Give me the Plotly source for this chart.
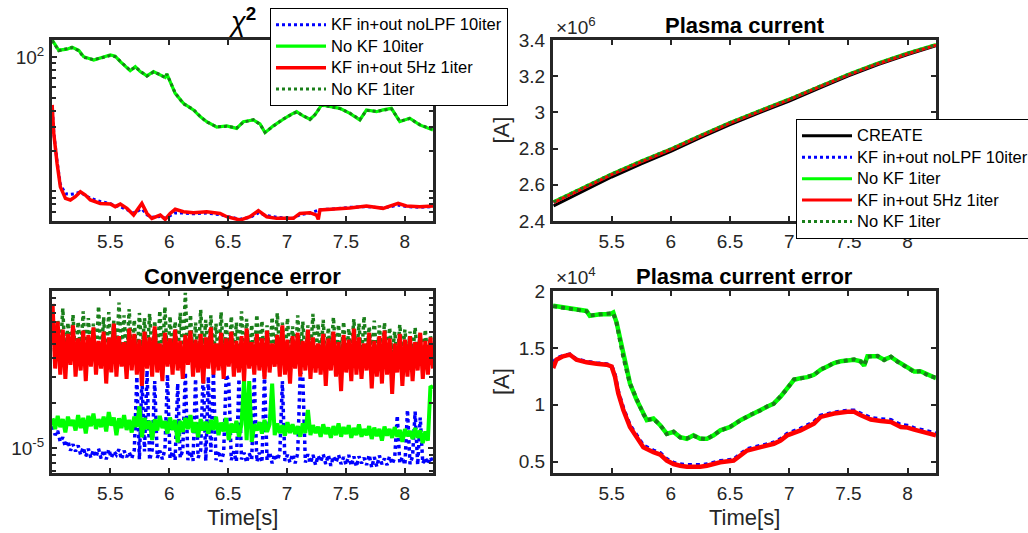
import numpy as np
import plotly.graph_objects as go

# ---------------- data ----------------
# chi^2 (top-left)
chi_t_nokf = [5.006, 5.062, 5.133, 5.175, 5.232, 5.274, 5.359, 5.415, 5.5, 5.542,
              5.585, 5.669, 5.712, 5.754, 5.811, 5.867, 5.924, 5.966, 5.980, 6.008,
              6.051, 6.121, 6.206, 6.263, 6.319, 6.404, 6.489, 6.573, 6.630, 6.715,
              6.771, 6.814, 6.884, 6.969, 7.025, 7.082, 7.138, 7.195, 7.237, 7.294,
              7.364, 7.449, 7.534, 7.619, 7.675, 7.760, 7.816, 7.887, 7.958, 8.042,
              8.127, 8.240]
chi_nokf10 = [134.7, 113, 115, 119, 113, 101, 95.5, 98.4, 104, 102,
              92.9, 79.5, 85.1, 78.2, 72.6, 78.2, 73.8, 70.9, 75.1, 65.8,
              53.8, 45.4, 40.5, 36.1, 33.1, 30.1, 30.8, 29.5, 33.1, 34.1,
              31.8, 27.4, 30.8, 34.5, 37.1, 39.3, 36.5, 34.5, 37.1, 44.1,
              42.8, 41.6, 38.2, 34.1, 40.5, 39.3, 40.5, 41.6, 33.1, 35.1,
              31.3, 28.7]
chi_nokf1 = [133.5, 112, 116, 118, 112, 100, 96, 99, 103, 101,
             93.5, 80, 84.5, 78.5, 72.2, 77.8, 74.2, 70.5, 74.8, 66.2,
             54.2, 45.0, 40.8, 36.3, 32.9, 30.3, 30.6, 29.7, 32.8, 34.3,
             31.6, 27.6, 30.6, 34.7, 36.9, 39.1, 36.7, 34.3, 37.3, 43.8,
             42.9, 41.4, 38.4, 34.3, 40.2, 39.5, 40.3, 41.3, 33.4, 34.9,
             31.5, 28.9]
chi_t_kf = [5.006, 5.020, 5.048, 5.076, 5.119, 5.161, 5.203, 5.246, 5.288, 5.331,
            5.415, 5.5, 5.542, 5.585, 5.641, 5.698, 5.768, 5.811, 5.853, 5.924,
            5.966, 6.008, 6.051, 6.121, 6.206, 6.319, 6.432, 6.489, 6.602, 6.686,
            6.757, 6.828, 6.912, 7.054, 7.110, 7.195, 7.251, 7.266, 7.280, 7.393,
            7.534, 7.675, 7.816, 7.944, 8.014, 8.127, 8.240]
chi_kf5hz = [44.1, 27.1, 16.2, 10.8, 8.87, 8.62, 9.12, 9.95, 9.39, 8.62,
             8.13, 8.04, 7.69, 8.04, 7.47, 6.66, 8.13, 6.85, 6.29, 6.66,
             6.18, 6.85, 7.35, 7.05, 6.93, 7.05, 6.85, 6.47, 6.11, 6.47,
             7.18, 6.47, 6.29, 6.29, 6.85, 6.93, 6.66, 6.18, 7.26, 7.35,
             7.52, 7.78, 7.47, 8.13, 7.78, 7.69, 7.78]
chi_kf_nolpf = [44.1, 27.5, 16.8, 11.3, 9.6, 9.5, 9.6, 9.9, 9.3, 8.9,
                8.4, 8.1, 7.8, 7.7, 7.3, 6.9, 7.4, 6.7, 6.4, 6.5,
                6.3, 6.6, 6.9, 6.9, 6.8, 6.9, 6.7, 6.5, 6.2, 6.4,
                6.9, 6.6, 6.4, 6.3, 6.7, 6.9, 7.1, 7.2, 7.3, 7.4,
                7.6, 7.7, 7.5, 7.9, 7.7, 7.6, 7.7]

# plasma current (top-right), in 1e6 A
ip_t = [5.01, 5.25, 5.5, 5.75, 6.0, 6.25, 6.5, 6.75, 7.0, 7.25, 7.5, 7.75, 8.0, 8.24]
ip_create = [2.483, 2.563, 2.643, 2.716, 2.785, 2.860, 2.933, 2.999, 3.063, 3.133, 3.202, 3.264, 3.320, 3.368]
ip_kf_nolpf = [2.503, 2.580, 2.657, 2.728, 2.796, 2.870, 2.942, 3.007, 3.071, 3.140, 3.208, 3.270, 3.325, 3.372]
ip_nokf = [2.507, 2.584, 2.661, 2.732, 2.799, 2.873, 2.945, 3.010, 3.074, 3.143, 3.211, 3.273, 3.328, 3.375]
ip_kf5hz = [2.502, 2.579, 2.656, 2.727, 2.795, 2.869, 2.941, 3.006, 3.070, 3.139, 3.207, 3.269, 3.324, 3.371]
ip_nokf1 = [2.506, 2.583, 2.660, 2.731, 2.798, 2.872, 2.944, 3.009, 3.073, 3.142, 3.210, 3.272, 3.327, 3.374]

# convergence error (bottom-left), in 1e-5, uniformly sampled over [5.01, 8.24]
conv_t0, conv_t1 = 5.01, 8.24
conv_kf_nolpf = [1.40, 1.22, 1.30, 1.10, 1.18, 1.02, 1.12, 0.96, 1.06, 0.95,
                 1.04, 0.90, 1.01, 0.88, 0.99, 0.86, 0.97, 0.87, 0.99, 0.85,
                 0.97, 0.84, 0.98, 0.86, 0.95, 0.90, 0.98, 0.84, 0.96, 0.87,
                 0.94, 0.85, 0.97, 3.0, 0.84, 2.9, 0.95, 3.3, 0.83, 0.97,
                 2.8, 0.86, 0.96, 0.84, 0.98, 3.1, 0.85, 0.95, 0.83, 2.7,
                 0.86, 0.97, 3.2, 0.83, 0.95, 0.82, 2.9, 0.86, 0.96, 3.3,
                 0.82, 3.0, 0.94, 3.2, 0.83, 0.96, 0.81, 0.93, 3.1, 2.8,
                 0.83, 0.95, 0.81, 2.9, 0.84, 0.93, 0.80, 0.92, 0.84, 3.0,
                 0.81, 0.93, 0.80, 3.1, 0.83, 0.94, 0.79, 0.91, 0.83, 0.92,
                 2.8, 0.82, 0.90, 0.80, 0.91, 0.79, 0.92, 3.2, 3.0, 0.80,
                 0.91, 0.79, 0.90, 0.77, 0.89, 0.81, 0.91, 0.78, 0.90, 0.76,
                 0.88, 0.80, 0.90, 0.78, 0.87, 0.77, 0.90, 0.76, 0.88, 0.75,
                 0.88, 0.79, 0.86, 0.77, 0.90, 0.74, 0.87, 0.75, 0.89, 0.78,
                 0.85, 0.77, 0.88, 0.78, 0.86, 1.65, 0.79, 0.87, 0.77, 1.8,
                 0.78, 0.88, 1.75, 0.77, 1.6, 0.79, 0.86, 0.78, 0.87, 0.80]
conv_nokf10 = [1.58, 1.34, 1.64, 1.38, 1.56, 1.27, 1.62, 1.41, 1.54, 1.31,
               1.66, 1.36, 1.59, 1.25, 1.64, 1.40, 1.70, 1.34, 1.56, 1.38,
               1.62, 1.29, 1.74, 1.41, 1.60, 1.22, 1.58, 1.36, 1.66, 1.32,
               1.54, 1.27, 1.62, 1.38, 1.90, 1.18, 1.59, 1.34, 1.52, 1.13,
               1.56, 1.31, 1.64, 1.36, 1.51, 1.25, 1.60, 1.32, 1.54, 1.09,
               1.52, 1.28, 1.59, 1.34, 1.66, 1.27, 1.49, 1.18, 1.56, 1.31,
               1.50, 1.25, 1.54, 1.32, 1.62, 1.22, 1.48, 1.29, 1.59, 1.13,
               1.46, 1.27, 1.52, 1.19, 1.44, 2.85, 1.13, 2.80, 1.10, 1.44,
               1.31, 1.49, 1.25, 1.54, 1.28, 1.44, 2.70, 1.22, 1.46, 1.26,
               1.42, 1.21, 1.49, 1.26, 1.44, 1.24, 1.40, 1.19, 1.46, 1.26,
               1.80, 1.22, 1.42, 1.26, 1.39, 1.19, 1.44, 1.24, 1.37, 1.17,
               1.40, 1.22, 1.46, 1.19, 1.38, 1.24, 1.42, 1.17, 1.36, 1.22,
               1.44, 1.19, 1.34, 1.22, 1.40, 1.15, 1.37, 1.20, 1.34, 1.12,
               1.39, 1.21, 1.34, 1.17, 1.38, 1.19, 1.32, 1.10, 1.34, 1.20,
               1.30, 1.15, 1.36, 1.17, 1.31, 1.08, 1.29, 1.12, 2.60, 2.50]
conv_kf5hz = [9.2, 3.4, 7.0, 3.1, 6.2, 2.9, 5.8, 3.6, 6.6, 3.0,
              5.4, 3.3, 6.1, 2.8, 5.7, 3.5, 6.4, 3.1, 5.2, 3.4,
              6.0, 2.7, 5.5, 3.2, 6.8, 3.0, 5.6, 3.5, 5.1, 2.9,
              6.3, 3.3, 5.8, 3.1, 5.3, 2.6, 6.0, 3.4, 5.5, 3.0,
              6.5, 3.2, 5.0, 2.8, 5.9, 3.5, 5.4, 3.1, 6.2, 3.3,
              5.2, 2.9, 5.7, 3.6, 6.1, 3.0, 5.3, 3.2, 5.8, 2.7,
              5.5, 3.4, 6.4, 3.1, 5.0, 3.3, 5.9, 2.9, 5.4, 3.5,
              6.0, 3.0, 5.2, 3.2, 5.6, 2.8, 6.3, 3.4, 5.1, 3.1,
              5.8, 3.3, 5.4, 2.9, 6.1, 3.2, 5.0, 3.5, 5.7, 3.0,
              6.6, 3.1, 5.3, 2.7, 5.6, 3.4, 5.9, 3.0, 5.2, 3.3,
              6.2, 2.9, 5.5, 3.2, 5.0, 3.1, 5.8, 2.6, 5.4, 3.3,
              6.0, 3.0, 5.1, 2.4, 5.7, 3.2, 5.3, 2.8, 6.3, 3.1,
              5.5, 2.9, 5.0, 3.3, 5.9, 2.5, 5.2, 3.0, 5.6, 2.7,
              6.1, 3.1, 5.4, 2.3, 5.0, 3.2, 5.8, 2.6, 5.3, 3.0,
              5.6, 2.8, 5.1, 3.3, 5.9, 2.9, 5.2, 3.1, 5.5, 3.4]
conv_nokf1 = [8.0, 3.8, 7.2, 4.2, 8.6, 3.6, 6.9, 4.0, 7.8, 3.9,
              7.0, 4.3, 8.2, 3.7, 7.4, 4.1, 6.8, 3.8, 8.9, 4.0,
              7.5, 3.6, 8.1, 4.4, 7.1, 3.9, 9.4, 4.2, 7.7, 3.8,
              8.5, 4.0, 7.2, 3.7, 8.0, 4.3, 7.4, 3.9, 7.9, 4.1,
              7.1, 3.8, 8.3, 4.0, 8.8, 3.7, 7.6, 4.2, 7.0, 3.9,
              8.0, 4.1, 10.9, 3.6, 7.8, 4.0, 6.9, 3.8, 8.4, 4.2,
              7.2, 3.9, 7.7, 4.1, 6.8, 3.7, 8.1, 4.0, 7.0, 3.8,
              7.6, 4.2, 6.9, 3.9, 8.2, 3.6, 7.3, 4.0, 6.7, 3.8,
              7.8, 4.1, 7.1, 3.7, 6.6, 4.0, 7.5, 3.9, 8.0, 4.2,
              6.9, 3.8, 7.4, 4.0, 6.5, 3.7, 7.7, 4.1, 7.0, 3.9,
              6.6, 4.2, 7.9, 3.8, 6.8, 4.0, 7.2, 3.6, 6.4, 4.1,
              7.5, 3.9, 6.7, 4.0, 7.0, 3.7, 6.3, 4.2, 7.3, 3.8,
              6.8, 4.0, 7.6, 3.9, 6.5, 4.1, 7.1, 3.8, 6.6, 4.0,
              6.9, 3.7, 6.4, 4.1, 6.0, 3.9, 6.7, 4.0, 6.2, 3.8,
              6.0, 4.1, 6.4, 3.9, 5.8, 4.0, 6.2, 3.8, 5.6, 4.2]

# plasma current error (bottom-right), in 1e4 A
ipe_t_nokf = [5.006, 5.090, 5.203, 5.288, 5.316, 5.401, 5.486, 5.514, 5.542, 5.571,
              5.599, 5.655, 5.712, 5.768, 5.797, 5.853, 5.910, 5.966, 6.023, 6.079,
              6.136, 6.192, 6.249, 6.305, 6.362, 6.418, 6.503, 6.588, 6.672, 6.757,
              6.814, 6.870, 6.927, 6.983, 7.040, 7.096, 7.153, 7.209, 7.266, 7.322,
              7.379, 7.435, 7.548, 7.605, 7.633, 7.661, 7.746, 7.802, 7.859, 7.915,
              8.000, 8.056, 8.113, 8.169, 8.240]
ipe_nokf = [1.870, 1.855, 1.840, 1.825, 1.781, 1.796, 1.796, 1.811, 1.722, 1.574,
            1.426, 1.189, 1.041, 0.923, 0.864, 0.879, 0.820, 0.746, 0.760, 0.716,
            0.701, 0.731, 0.701, 0.701, 0.731, 0.775, 0.805, 0.864, 0.908, 0.953,
            0.982, 1.012, 1.071, 1.145, 1.219, 1.234, 1.243, 1.263, 1.308, 1.337,
            1.367, 1.382, 1.396, 1.382, 1.343, 1.426, 1.426, 1.396, 1.420, 1.382,
            1.322, 1.293, 1.293, 1.263, 1.234]
ipe_nokf1 = [1.866, 1.852, 1.838, 1.822, 1.785, 1.792, 1.799, 1.806, 1.718, 1.570,
             1.420, 1.185, 1.045, 0.918, 0.868, 0.875, 0.824, 0.742, 0.764, 0.712,
             0.705, 0.727, 0.705, 0.697, 0.735, 0.771, 0.809, 0.860, 0.912, 0.949,
             0.986, 1.008, 1.075, 1.141, 1.223, 1.230, 1.247, 1.259, 1.312, 1.333,
             1.371, 1.378, 1.400, 1.378, 1.347, 1.422, 1.430, 1.392, 1.424, 1.378,
             1.326, 1.289, 1.297, 1.259, 1.238]
ipe_t_kf = [5.006, 5.034, 5.090, 5.147, 5.203, 5.288, 5.373, 5.458, 5.5, 5.528,
            5.556, 5.599, 5.655, 5.712, 5.768, 5.853, 5.910, 5.966, 6.023, 6.079,
            6.136, 6.249, 6.305, 6.418, 6.531, 6.644, 6.757, 6.870, 6.927, 6.983,
            7.096, 7.209, 7.266, 7.379, 7.492, 7.548, 7.605, 7.689, 7.774, 7.859,
            7.944, 8.000, 8.056, 8.141, 8.240]
ipe_kf5hz = [1.322, 1.396, 1.426, 1.441, 1.396, 1.373, 1.361, 1.352, 1.337, 1.249,
             1.101, 0.953, 0.805, 0.716, 0.627, 0.583, 0.562, 0.509, 0.479, 0.464,
             0.456, 0.456, 0.464, 0.494, 0.509, 0.598, 0.627, 0.657, 0.686, 0.731,
             0.775, 0.834, 0.893, 0.923, 0.938, 0.938, 0.908, 0.870, 0.858, 0.849,
             0.805, 0.799, 0.781, 0.760, 0.731]
ipe_kf_nolpf = [1.367, 1.405, 1.430, 1.443, 1.400, 1.378, 1.366, 1.357, 1.342, 1.262,
                1.115, 0.968, 0.820, 0.732, 0.642, 0.597, 0.575, 0.522, 0.490, 0.476,
                0.470, 0.470, 0.476, 0.505, 0.520, 0.610, 0.640, 0.668, 0.698, 0.745,
                0.790, 0.848, 0.905, 0.932, 0.948, 0.950, 0.922, 0.885, 0.873, 0.866,
                0.822, 0.815, 0.795, 0.775, 0.748]

x_ticks = [5.5, 6, 6.5, 7, 7.5, 8]
ip_ticks = [2.4, 2.6, 2.8, 3.0, 3.2, 3.4]
ipe_ticks = [0.5, 1, 1.5, 2]

# ---------------- style ----------------
BLUE, GREEN, RED, DKGREEN, BLACK = "#0000ff", "#00ff00", "#ff0000", "#1a7f1a", "#000000"
AX = "#262626"
FONT = "Liberation Sans, Arial, Helvetica, sans-serif"
W, H = 1028, 533

def px_x(p):
    return p / W

def px_y(p):
    return 1 - p / H

XL = [px_x(52), px_x(433)]
XR = [px_x(553), px_x(936)]
YT = [px_y(221), px_y(40)]
YB = [px_y(473), px_y(291)]

fig = go.Figure()

def lg(name):
    return '<span style="font-size:16.5px">' + name + '</span>'

def add(x, y, name, color, dash, xa, ya, legend=None, width=3):
    fig.add_trace(go.Scatter(
        x=x, y=y, mode="lines", name=lg(name) if legend else name,
        line=dict(color=color, width=width, dash=dash),
        xaxis=xa, yaxis=ya,
        showlegend=legend is not None,
        legend=legend if legend else "legend",
        hoverinfo="skip"))

# top-left chi^2
add(chi_t_kf, chi_kf_nolpf, "KF in+out noLPF 10iter", BLUE, "dot", "x", "y", "legend")
add(chi_t_nokf, chi_nokf10, "No KF 10iter", GREEN, "solid", "x", "y", "legend", width=3.2)
add(chi_t_kf, chi_kf5hz, "KF in+out 5Hz 1iter", RED, "solid", "x", "y", "legend", width=3.5)
add(chi_t_nokf, chi_nokf1, "No KF 1iter", DKGREEN, "dot", "x", "y", "legend")

# top-right plasma current
s6 = 1e6
add(ip_t, [v * s6 for v in ip_create], "CREATE", BLACK, "solid", "x2", "y2", "legend2")
add(ip_t, [v * s6 for v in ip_kf_nolpf], "KF in+out noLPF 10iter", BLUE, "dot", "x2", "y2", "legend2")
add(ip_t, [v * s6 for v in ip_nokf], "No KF 1iter", GREEN, "solid", "x2", "y2", "legend2")
add(ip_t, [v * s6 for v in ip_kf5hz], "KF in+out 5Hz 1iter", RED, "solid", "x2", "y2", "legend2")
add(ip_t, [v * s6 for v in ip_nokf1], "No KF 1iter", DKGREEN, "dot", "x2", "y2", "legend2")

# bottom-left convergence error
def conv_time(vals):
    n = len(vals)
    return [conv_t0 + (conv_t1 - conv_t0) * i / (n - 1) for i in range(n)]

s5 = 1e-5
add(conv_time(conv_kf_nolpf), [v * s5 for v in conv_kf_nolpf], "KF in+out noLPF 10iter", BLUE, "dot", "x3", "y3", width=3.5)
add(conv_time(conv_nokf10), [v * s5 for v in conv_nokf10], "No KF 10iter", GREEN, "solid", "x3", "y3", width=4)
add(conv_time(conv_nokf1), [v * s5 for v in conv_nokf1], "No KF 1iter", DKGREEN, "dot", "x3", "y3", width=3.5)
add(conv_time(conv_kf5hz), [v * s5 for v in conv_kf5hz], "KF in+out 5Hz 1iter", RED, "solid", "x3", "y3", width=4)

# bottom-right plasma current error
s4 = 1e4
add(ipe_t_kf, [v * s4 for v in ipe_kf_nolpf], "KF in+out noLPF 10iter", BLUE, "dot", "x4", "y4", width=4)
add(ipe_t_nokf, [v * s4 for v in ipe_nokf], "No KF 10iter", GREEN, "solid", "x4", "y4", width=4.5)
add(ipe_t_kf, [v * s4 for v in ipe_kf5hz], "KF in+out 5Hz 1iter", RED, "solid", "x4", "y4", width=4.5)
add(ipe_t_nokf, [v * s4 for v in ipe_nokf1], "No KF 1iter", DKGREEN, "dot", "x4", "y4", width=4)

tickfont = dict(family=FONT, size=19, color=AX)

def xaxis(domain, anchor):
    return dict(domain=domain, anchor=anchor, range=[5.005, 8.24],
                tickmode="array", tickvals=x_ticks, ticktext=[f"{v:g}" for v in x_ticks],
                ticks="inside", ticklen=5, tickwidth=2, tickcolor=AX,
                showline=True, linewidth=3, linecolor=AX, mirror="allticks",
                showgrid=False, zeroline=False, tickfont=tickfont, ticklabelstandoff=1)

def yaxis_common(domain, anchor):
    return dict(domain=domain, anchor=anchor,
                ticks="inside", ticklen=5, tickwidth=2, tickcolor=AX,
                showline=True, linewidth=3, linecolor=AX, mirror="allticks",
                showgrid=False, zeroline=False, tickfont=tickfont, ticklabelstandoff=1)

ya1 = yaxis_common(YT, "x")
ya1.update(type="log", range=[0.779, 2.129], tickmode="array", tickvals=[100],
           ticktext=["10<sup>2</sup>"],
           minor=dict(ticks="inside", ticklen=4, tickwidth=1.5, tickcolor=AX, tickmode="array",
                      tickvals=[7, 8, 9, 10, 20, 30, 40, 50, 60, 70, 80, 90]))
ya2 = yaxis_common(YT, "x2")
ya2.update(range=[2.4e6, 3.4e6], tickmode="array", tickvals=[v * s6 for v in ip_ticks],
           ticktext=[f"{v:g}" for v in ip_ticks])
ya3 = yaxis_common(YB, "x3")
ya3.update(type="log", range=[-5.167, -3.950], tickmode="array", tickvals=[1e-5],
           ticktext=["10<sup>-5</sup>"],
           minor=dict(ticks="inside", ticklen=4, tickwidth=1.5, tickcolor=AX, tickmode="array",
                      tickvals=[7e-6, 8e-6, 9e-6, 2e-5, 3e-5, 4e-5, 5e-5, 6e-5, 7e-5, 8e-5, 9e-5, 1e-4]))
ya4 = yaxis_common(YB, "x4")
ya4.update(range=[0.4e4, 2.0e4], tickmode="array", tickvals=[v * s4 for v in ipe_ticks],
           ticktext=[f"{v:g}" for v in ipe_ticks])

legend_style = dict(bgcolor="white", bordercolor="black", borderwidth=1,
                    font=dict(family=FONT, size=14.2, color="black"),
                    xanchor="left", yanchor="top", tracegroupgap=0, itemwidth=50)

fig.update_layout(
    width=W, height=H,
    margin=dict(l=0, r=0, t=0, b=0, autoexpand=False),
    paper_bgcolor="white", plot_bgcolor="white",
    font=dict(family=FONT, color=AX),
    xaxis=xaxis(XL, "y"), yaxis=ya1,
    xaxis2=xaxis(XR, "y2"), yaxis2=ya2,
    xaxis3=xaxis(XL, "y3"), yaxis3=ya3,
    xaxis4=xaxis(XR, "y4"), yaxis4=ya4,
    legend=dict(x=px_x(270), y=px_y(8), **legend_style),
    legend2=dict(x=px_x(796), y=px_y(119), **legend_style),
)

title_font = dict(family=FONT, size=22, color="black")
cxL = (52 + 433) / 2 / W
cxR = (553 + 936) / 2 / W
ann = [
    dict(text="<i>χ</i><sup><b>2</b></sup>", x=cxL, y=px_y(39), yanchor="bottom",
         font=dict(family=FONT, size=27, color="black")),
    dict(text="<b>Plasma current</b>", x=cxR, y=px_y(40), yanchor="bottom", font=title_font),
    dict(text="<b>Convergence error</b>", x=cxL, y=px_y(291), yanchor="bottom", font=title_font),
    dict(text="<b>Plasma current error</b>", x=cxR, y=px_y(291), yanchor="bottom", font=title_font),
    dict(text="×10<sup>6</sup>", x=px_x(554), y=px_y(40), xanchor="left", yanchor="bottom",
         font=dict(family=FONT, size=19, color=AX)),
    dict(text="×10<sup>4</sup>", x=px_x(554), y=px_y(290), xanchor="left", yanchor="bottom",
         font=dict(family=FONT, size=19, color=AX)),
    dict(text="[A]", x=px_x(501), y=px_y(130.5), textangle=-90,
         font=dict(family=FONT, size=22, color=AX)),
    dict(text="[A]", x=px_x(501), y=px_y(382), textangle=-90,
         font=dict(family=FONT, size=22, color=AX)),
    dict(text="Time[s]", x=cxL, y=px_y(532), yanchor="bottom", font=dict(family=FONT, size=22, color=AX)),
    dict(text="Time[s]", x=cxR, y=px_y(532), yanchor="bottom", font=dict(family=FONT, size=22, color=AX)),
]
for a in ann:
    a.setdefault("xanchor", "center")
    a.setdefault("yanchor", "middle")
    a.update(xref="paper", yref="paper", showarrow=False)
fig.update_layout(annotations=ann)

fig.write_html("out.html")
